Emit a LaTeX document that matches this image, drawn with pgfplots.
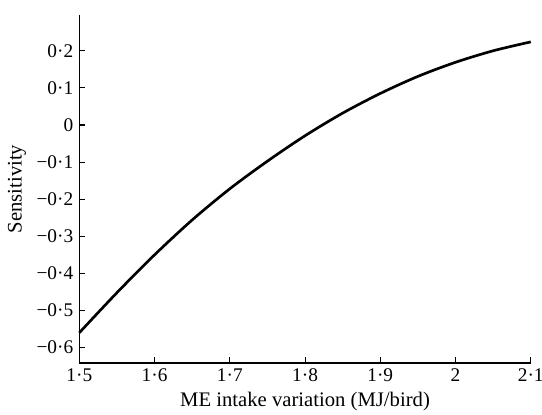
\documentclass[border=0pt]{standalone}
\usepackage{pgfplots}
\pgfplotsset{compat=1.18}
\usepackage{fontspec}
\setmainfont{Liberation Serif}
\begin{document}
\begin{tikzpicture}[x=0.75pt,y=0.75pt]
\useasboundingbox (-79.3,-51) rectangle (462.7,363);
\begin{axis}[
  at={(0,0)}, anchor=south west,
  scale only axis,
  width=338.6pt, height=261pt,
  xmin=1.5, xmax=2.1,
  ymin=-0.6415, ymax=0.2965,
  axis x line*=bottom, axis y line*=left,
  axis line style={-, line width=0.8pt},
  tick style={line width=0.8pt, black},
  tick align=inside,
  major tick length=4.3pt,
  xtick={1.5,1.6,1.7,1.8,1.9,2.0,2.1},
  xticklabels={1·5,1·6,1·7,1·8,1·9,2,2·1},
  ytick={-0.6,-0.5,-0.4,-0.3,-0.2,-0.1,0,0.1,0.2},
  yticklabels={−0·6,−0·5,−0·4,−0·3,−0·2,−0·1,0,0·1,0·2},
  ticklabel style={font=\fontsize{14.5}{16}\selectfont},
  label style={font=\fontsize{15.5}{18}\selectfont},
  yticklabel style={xshift=-1pt},
  xticklabel style={yshift=-1pt},
  xlabel={ME intake variation (MJ/bird)},
  ylabel={Sensitivity},
  xlabel style={yshift=-1pt},
  ylabel style={yshift=1pt},
  clip=false,
]
\addplot[black, line width=2pt, smooth] coordinates {
(1.50,-0.560) (1.55,-0.452) (1.60,-0.350) (1.65,-0.256) (1.70,-0.172)
(1.75,-0.0975) (1.80,-0.029) (1.85,0.032) (1.90,0.085) (1.95,0.131)
(2.00,0.169) (2.05,0.200) (2.10,0.224)
};
\end{axis}
\end{tikzpicture}
\end{document}
